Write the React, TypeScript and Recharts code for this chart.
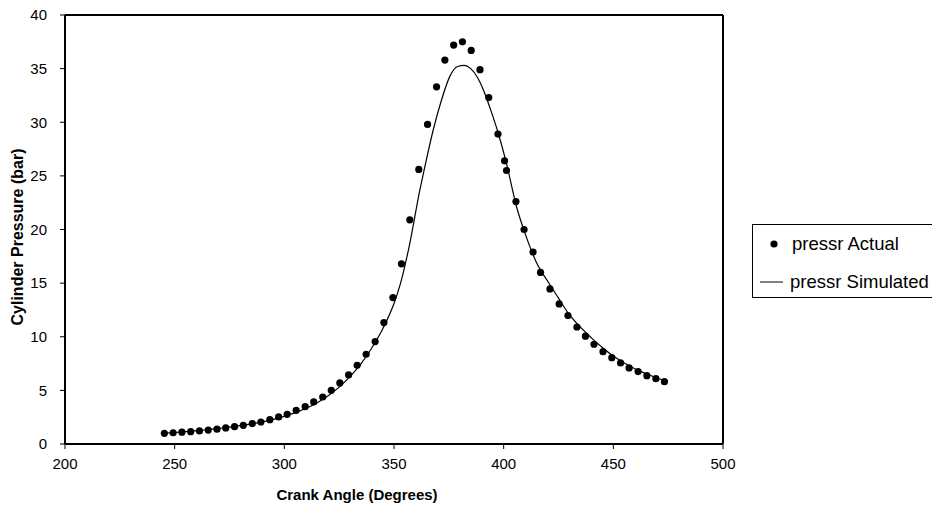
import React from 'react';
import { ComposedChart, Scatter, Line, XAxis, YAxis, ReferenceLine } from 'recharts';

const actualAngle = [
  245.3, 249.3, 253.3, 257.3, 261.3, 265.3, 269.3, 273.3, 277.3, 281.3,
  285.4, 289.3, 293.4, 297.4, 301.3, 305.4, 309.5, 313.4, 317.5, 321.4,
  325.3, 329.3, 333.2, 337.3, 341.4, 345.4, 349.5, 353.4, 357.2, 361.3,
  365.3, 369.4, 373.2, 377.2, 381.2, 385.2, 389.2, 393.2, 397.4, 400.4,
  401.3, 405.6, 409.3, 413.4, 416.8, 421.1, 425.3, 429.3, 433.4, 437.3,
  441.2, 445.3, 449.3, 453.3, 457.2, 461.3, 465.3, 469.4, 473.3,
];
const actualPressure = [
  1.0, 1.05, 1.1, 1.15, 1.22, 1.3, 1.38, 1.5, 1.62, 1.74,
  1.9, 2.05, 2.27, 2.52, 2.77, 3.14, 3.48, 3.92, 4.38, 5.01,
  5.69, 6.44, 7.34, 8.37, 9.55, 11.32, 13.65, 16.8, 20.9, 25.6,
  29.8, 33.3, 35.8, 37.2, 37.5, 36.7, 34.9, 32.3, 28.9, 26.4,
  25.5, 22.6, 20.0, 17.9, 16.0, 14.46, 13.06, 11.97, 10.91, 10.05,
  9.3, 8.61, 8.05, 7.56, 7.09, 6.75, 6.37, 6.09, 5.81,
];

const simAngle = [
  245, 250, 255, 260, 265, 270, 275, 280, 285, 290,
  295, 300, 305, 310, 315, 320, 325, 330, 335, 340,
  345, 350, 353, 357, 361.8, 363.8, 367.9, 371.7, 375.5, 379,
  382, 385, 388, 391, 394, 397.5, 401, 405.9, 410, 415,
  420.3, 425, 429.1, 434, 440, 445, 450, 455, 460, 465,
  470, 473.5,
];
const simPressure = [
  1.0, 1.07, 1.15, 1.24, 1.33, 1.45, 1.57, 1.71, 1.88, 2.07,
  2.3, 2.58, 2.92, 3.33, 3.85, 4.5, 5.3, 6.3, 7.5, 9.0,
  10.8, 13.1, 15.0, 18.5, 23.7, 25.6, 29.3, 32.1, 34.3, 35.2,
  35.3, 35.0, 34.2, 32.9, 31.2, 29.0, 26.4, 22.1, 19.5, 16.9,
  15.1, 13.6, 12.3, 11.1, 9.9, 9.0, 8.2, 7.55, 7.0, 6.55,
  6.15, 5.9,
];

const xTicks = [200, 250, 300, 350, 400, 450, 500];
const yTicks = [0, 5, 10, 15, 20, 25, 30, 35, 40];

const seriesActual = 'pressr Actual';
const seriesSim = 'pressr Simulated';
const xTitle = 'Crank Angle (Degrees)';
const yTitle = 'Cylinder Pressure (bar)';

const actualData = actualAngle.map((x, i) => ({ x, actual: actualPressure[i] }));
const simData = simAngle.map((x, i) => ({ x, sim: simPressure[i] }));

const FONT = '"Liberation Sans", Arial, sans-serif';

const Dot = (props: any) => {
  const { cx, cy } = props;
  if (cx == null || cy == null) return null;
  return <circle cx={cx} cy={cy} r={3.6} fill="#000" />;
};

const YTitle = () => {
  const cy = 237;
  const cx = 17;
  return (
    <text
      x={cx}
      y={cy}
      transform={`rotate(-90, ${cx}, ${cy})`}
      textAnchor="middle"
      dominantBaseline="central"
      fontFamily={FONT}
      fontSize={16}
      fontWeight="bold"
      fill="#000"
    >
      {yTitle}
    </text>
  );
};

const XTitle = () => (
  <text
    x={357}
    y={494}
    textAnchor="middle"
    dominantBaseline="central"
    fontFamily={FONT}
    fontSize={15}
    fontWeight="bold"
    fill="#000"
  >
    {xTitle}
  </text>
);

const LegendBox = () => (
  <div
    style={{
      position: 'absolute',
      left: 752,
      top: 224,
      border: '1px solid #000',
      width: 200,
      height: 74,
      boxSizing: 'border-box',
      background: '#fff',
      fontFamily: FONT,
      fontSize: 18.5,
      color: '#000',
    }}
  >
    <svg width={40} height={74} style={{ position: 'absolute', left: 0, top: 0 }}>
      <circle cx={21} cy={19} r={3.6} fill="#000" />
      <line x1={7} y1={57} x2={30} y2={57} stroke="#000" strokeWidth={1} />
    </svg>
    <div style={{ position: 'absolute', left: 39, top: 8, lineHeight: '22px', whiteSpace: 'nowrap' }}>{seriesActual}</div>
    <div style={{ position: 'absolute', left: 37, top: 46, lineHeight: '22px', whiteSpace: 'nowrap' }}>{seriesSim}</div>
  </div>
);

export default function App() {
  return (
    <div style={{ position: 'absolute', left: 0, top: 0, width: 932, height: 512, overflow: 'hidden', background: '#fff' }}>
      <ComposedChart
        width={932}
        height={512}
        margin={{ top: 15, right: 209, bottom: 0, left: 0 }}
      >
        <XAxis
          type="number"
          dataKey="x"
          domain={[200, 500]}
          ticks={xTicks}
          interval={0}
          allowDataOverflow
          height={68}
          axisLine={{ stroke: '#000', strokeWidth: 2 }}
          tickLine={{ stroke: '#000', strokeWidth: 1 }}
          tickSize={5}
          tickMargin={9}
          tick={{ fill: '#000', fontSize: 15, fontFamily: FONT }}
          label={<XTitle />}
        />
        <YAxis
          type="number"
          domain={[0, 40]}
          ticks={yTicks}
          interval={0}
          width={65}
          axisLine={{ stroke: '#000', strokeWidth: 2 }}
          tickLine={{ stroke: '#000', strokeWidth: 1 }}
          tickSize={5}
          tickMargin={13}
          tick={{ fill: '#000', fontSize: 15, fontFamily: FONT }}
          label={<YTitle />}
        />
        <ReferenceLine y={40} stroke="#000" strokeWidth={2} />
        <ReferenceLine x={500} stroke="#000" strokeWidth={2} />
        <Line
          data={simData}
          dataKey="sim"
          type="monotone"
          stroke="#000"
          strokeWidth={1.2}
          dot={false}
          activeDot={false}
          isAnimationActive={false}
          name={seriesSim}
        />
        <Scatter
          data={actualData}
          dataKey="actual"
          shape={<Dot />}
          isAnimationActive={false}
          name={seriesActual}
        />
      </ComposedChart>
      <LegendBox />
    </div>
  );
}
